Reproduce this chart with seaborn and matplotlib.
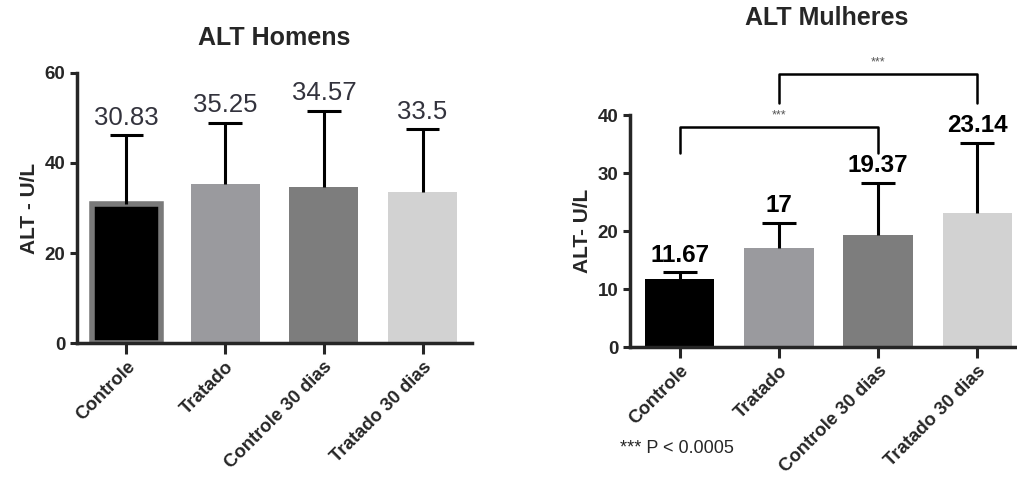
import numpy as np
import matplotlib
matplotlib.use("Agg")
import matplotlib.pyplot as plt
import seaborn as sns

CATEGORIES = ["Controle", "Tratado", "Controle 30 dias", "Tratado 30 dias"]
BAR_COLORS = ["#000000", "#9a9a9e", "#7d7d7d", "#d2d2d2"]

# ALT Homens
MEN_MEANS = [30.83, 35.25, 34.57, 33.5]
MEN_UPPER = [46.2, 48.9, 51.6, 47.5]       # top of error bar
MEN_LABELS = ["30.83", "35.25", "34.57", "33.5"]

# ALT Mulheres
WOMEN_MEANS = [11.67, 17, 19.37, 23.14]
WOMEN_UPPER = [12.9, 21.4, 28.3, 35.2]
WOMEN_LABELS = ["11.67", "17", "19.37", "23.14"]

# significance brackets: (from idx, to idx, leg bottom, bar height)
BRACKETS = [(0, 2, 33.4, 37.9), (1, 3, 42.1, 47.1)]

sns.set_style("ticks")
plt.rcParams["font.family"] = ["Liberation Sans", "DejaVu Sans"]

fig = plt.figure(figsize=(10.17, 4.78), dpi=100)
ax_m = fig.add_axes([0.0757, 0.2824, 0.3884, 0.5649])
ax_w = fig.add_axes([0.6195, 0.2740, 0.3805, 0.4854])


def draw_panel(ax, means, upper, labels, ylabel, ymax, yticks,
               label_kw, xmax):
    sns.barplot(x=CATEGORIES, y=means, hue=CATEGORIES, palette=BAR_COLORS,
                legend=False, width=0.7, errorbar=None, linewidth=0,
                saturation=1, ax=ax)
    x = np.arange(len(means))
    # one-sided (upper) error bars
    ax.vlines(x, means, upper, color="black", lw=2.2, zorder=3)
    ax.hlines(upper, x - 0.17, x + 0.17, color="black", lw=2.2, zorder=3)
    for xi, top, lab in zip(x, upper, labels):
        ax.annotate(lab, (xi, top), xytext=(0, 4), textcoords="offset points",
                    ha="center", va="bottom", annotation_clip=False,
                    **label_kw)
    ax.set_ylim(0, ymax)
    ax.set_xlim(-0.5, xmax)
    ax.set_yticks(yticks)
    ax.set_ylabel(ylabel, fontsize=15, fontweight="bold")
    ax.set_xticks(x)
    ax.set_xticklabels(CATEGORIES, rotation=45, ha="right",
                       rotation_mode="anchor", fontsize=13.3,
                       fontweight="bold")
    for t in ax.get_yticklabels():
        t.set_fontweight("bold")
    ax.tick_params(axis="y", labelsize=13.5, width=2.2, length=5)
    ax.tick_params(axis="x", width=2.2, length=8, pad=3)
    sns.despine(ax=ax)
    for s in ("left", "bottom"):
        ax.spines[s].set_linewidth(2.5)


draw_panel(ax_m, MEN_MEANS, MEN_UPPER, MEN_LABELS, "ALT - U/L",
           60, [0, 20, 40, 60],
           dict(fontsize=18.5, color="#33333d"), 3.5)
ax_m.patches[0].set_edgecolor("#7a7a7a")
ax_m.patches[0].set_linewidth(4)
ax_m.set_title("ALT Homens", fontsize=18, fontweight="bold", pad=20)

draw_panel(ax_w, WOMEN_MEANS, WOMEN_UPPER, WOMEN_LABELS,
           "ALT- U/L", 40, [0, 10, 20, 30, 40],
           dict(fontsize=17.5, fontweight="bold", color="black"), 3.4)
fig.text(0.813, 0.962, "ALT Mulheres", fontsize=18, fontweight="bold",
         ha="center", va="center")

for i, j, low, high in BRACKETS:
    ax_w.plot([i, i, j, j], [low, high, high, low], color="black", lw=1.8,
              clip_on=False)
    ax_w.text((i + j) / 2, high + 1.0, "***", ha="center", va="bottom",
              fontsize=9, color="#555555")

fig.text(0.61, 0.061, "*** P < 0.0005", fontsize=13, ha="left",
         va="center")

fig.savefig("out.png", dpi=100)
